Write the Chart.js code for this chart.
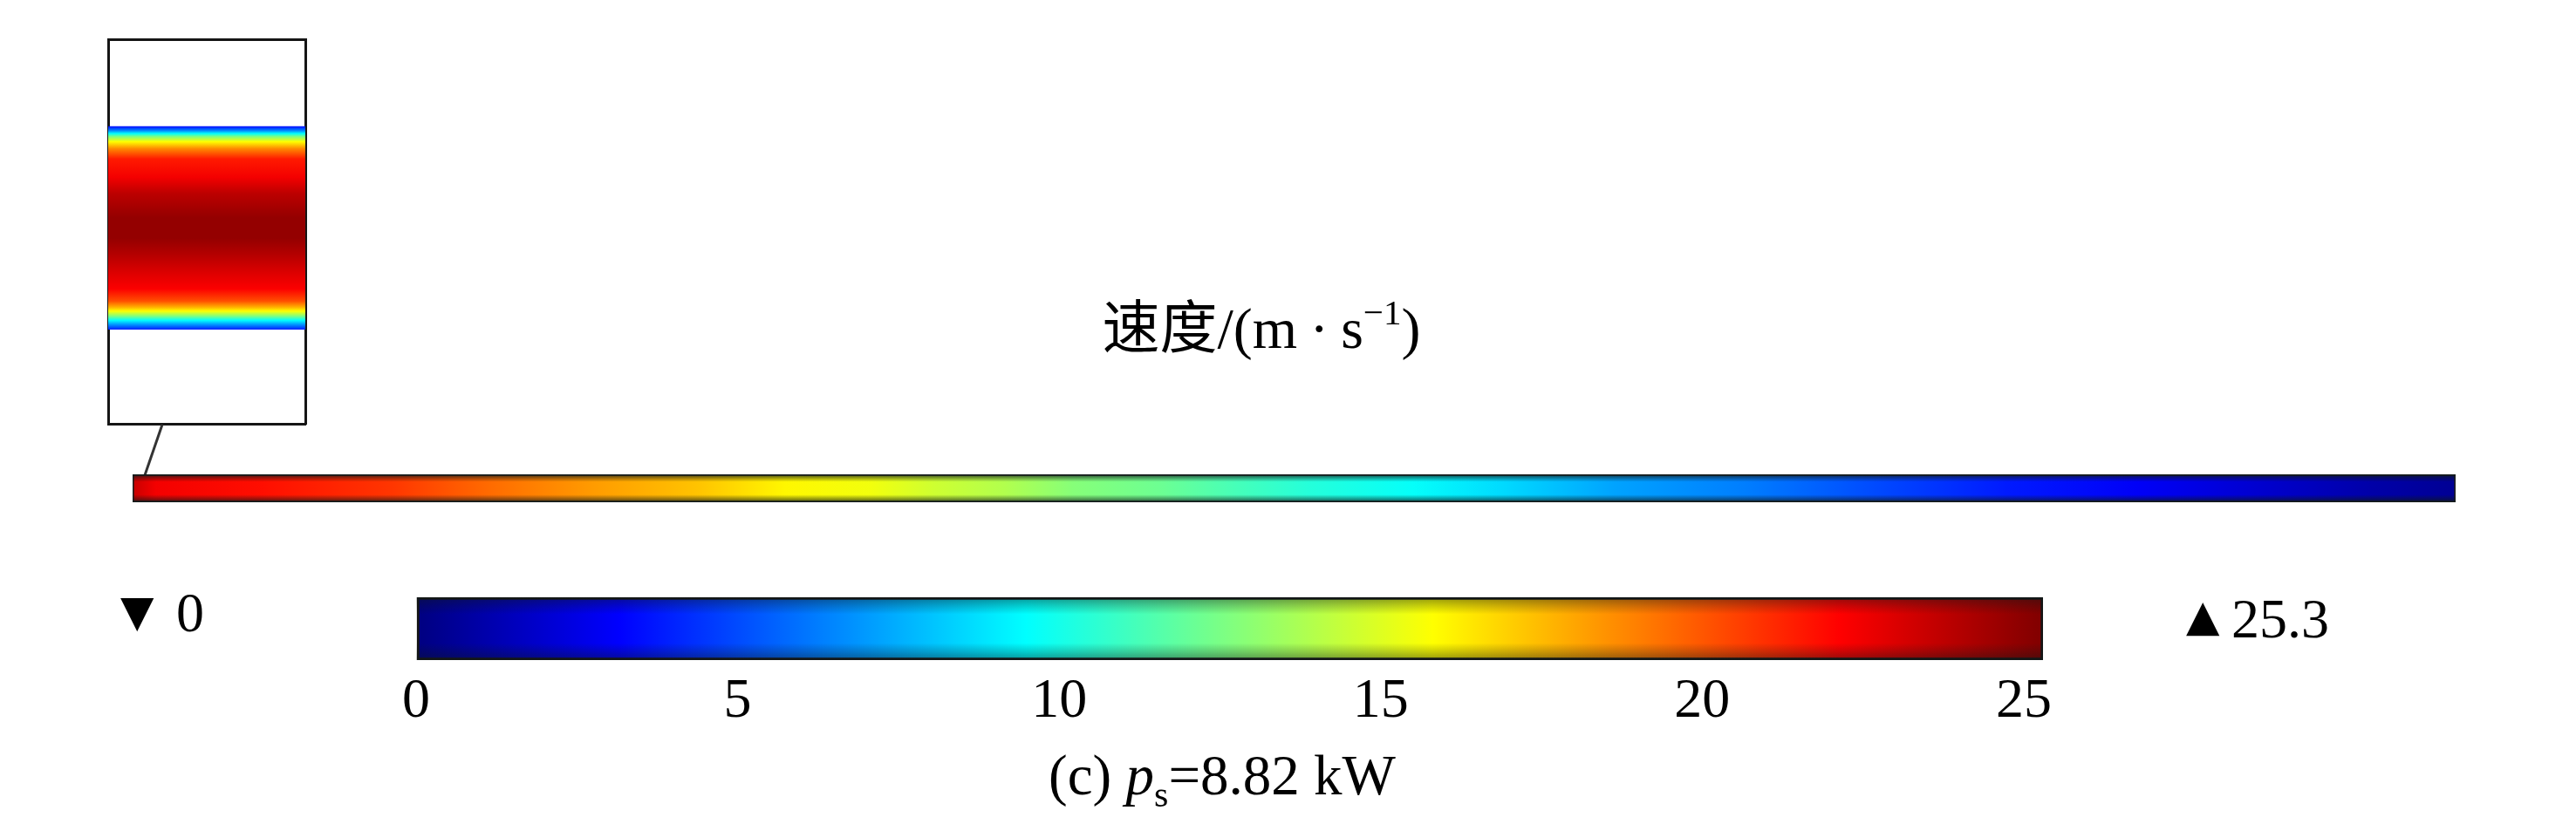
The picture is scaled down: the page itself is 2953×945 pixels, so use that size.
<!DOCTYPE html>
<html>
<head>
<meta charset="utf-8">
<script src="https://cdn.jsdelivr.net/npm/chart.js@4.4.1/dist/chart.umd.min.js"></script>
<style>
  html, body { margin: 0; padding: 0; background: #fff; overflow: hidden; }
  #stage { position: relative; width: 2953px; height: 945px; background: #fff; color: #000;
           font-family: "Liberation Serif", "Noto Sans CJK SC", serif; }
  .abs { position: absolute; }
  .txt { position: absolute; line-height: 1; white-space: nowrap; }
  .tri { font-family: "DejaVu Sans", sans-serif; }
</style>
</head>
<body>
<div id="stage">
  <div class="abs" style="left:120px;top:41px;width:234px;height:449px"><canvas id="insetChart"></canvas></div>
  <svg class="abs" style="left:0;top:0" width="2953" height="945">
    <line x1="186" y1="487" x2="166" y2="545" stroke="#333" stroke-width="3"/>
  </svg>
  <div class="abs" style="left:152px;top:544px;width:2663px;height:32px"><canvas id="pipeChart"></canvas></div>
  <div class="abs" style="left:417px;top:685px;width:1985px;height:144px"><canvas id="colorbarChart"></canvas></div>

  <div class="txt" style="left:1046px;top:344px;width:800px;text-align:center;font-size:66px">速度/(m<span style="padding:0 14px">·</span>s<span style="font-size:41px;position:relative;top:-27px">−1</span>)</div>

  <div class="txt tri" style="left:138px;top:676px;font-size:50px">▼</div>
  <div class="txt" style="left:202px;top:671px;font-size:64px">0</div>

  <div class="txt tri" style="left:2506px;top:681px;font-size:50px">▲</div>
  <div class="txt" style="left:2558px;top:678px;font-size:64px">25.3</div>

  <div class="txt" style="left:1001px;top:857px;width:800px;text-align:center;font-size:65px">(c) <i>p</i><span style="font-size:42px;position:relative;top:14px">s</span>=8.82 kW</div>
</div>

<script>
// ---- data ----
var speedMin = 0;
var speedMax = 25.3;
var colorbarTicks = [0, 5, 10, 15, 20, 25];

// speed along the pipe, position as fraction of pipe length (inlet on the left)
var pipePosition = [0, 0.01, 0.056, 0.112, 0.153, 0.198, 0.243, 0.281, 0.318, 0.345, 0.375, 0.405, 0.442,
                    0.476, 0.506, 0.551, 0.589, 0.638, 0.694, 0.750, 0.807, 0.863, 0.919, 0.964, 1];
var pipeSpeed = [23.5, 22.4, 21.8, 20.8, 19.5, 18.3, 17.3, 16.0, 15.5, 14.6, 13.9, 12.8, 12.2,
                 11.2, 10.4, 9.6, 8.6, 7.2, 6.3, 5.0, 3.8, 3.0, 1.9, 1.0, 0.5];

// inset: cross-section profile near the inlet, r/R (+1 = upper wall)
var profileRadius = [1, 0.96, 0.93, 0.9, 0.85, 0.78, 0.68, 0.5, 0.34, 0.1, -0.1, -0.26, -0.44,
                     -0.6, -0.72, -0.78, -0.82, -0.87, -0.91, -0.95, -1];
var profileSpeed = [3.5, 6.5, 9.5, 12.6, 15.8, 18.8, 21.5, 22.4, 23.8, 24.8, 24.8, 24.0, 23.0,
                    22.2, 20.2, 17.8, 15.8, 12.6, 9.5, 7.0, 4.0];

// ---- colour map (jet) ----
function clamp(a) { return Math.max(0, Math.min(1, a)); }
function jet(v) {
    var t = clamp((v - speedMin) / (speedMax - speedMin));
    var r = clamp(1.5 - Math.abs(4 * t - 3));
    var g = clamp(1.5 - Math.abs(4 * t - 2));
    var b = clamp(1.5 - Math.abs(4 * t - 1));
    return 'rgb(' + Math.round(r * 255) + ',' + Math.round(g * 255) + ',' + Math.round(b * 255) + ')';
}

function pipeGradient(chart) {
    var area = chart.chartArea;
    if (!area) return 'transparent';
    var xs = chart.scales.x;
    var g = chart.ctx.createLinearGradient(xs.getPixelForValue(0), 0, xs.getPixelForValue(1), 0);
    pipePosition.forEach(function(p, i) { g.addColorStop(p, jet(pipeSpeed[i])); });
    return g;
}

// darker band along the walls
function wallShade(chart, strength) {
    var area = chart.chartArea;
    if (!area) return 'transparent';
    var g = chart.ctx.createLinearGradient(0, area.top, 0, area.bottom);
    g.addColorStop(0, 'rgba(15,25,25,' + strength + ')');
    g.addColorStop(0.13, 'rgba(15,25,25,' + (strength * 0.5) + ')');
    g.addColorStop(0.27, 'rgba(15,25,25,0)');
    g.addColorStop(0.73, 'rgba(15,25,25,0)');
    g.addColorStop(0.87, 'rgba(15,25,25,' + (strength * 0.5) + ')');
    g.addColorStop(1, 'rgba(15,25,25,' + strength + ')');
    return g;
}

function profileGradient(chart) {
    var area = chart.chartArea;
    if (!area) return 'transparent';
    var ys = chart.scales.y;
    var g = chart.ctx.createLinearGradient(0, ys.getPixelForValue(1), 0, ys.getPixelForValue(-1));
    profileRadius.forEach(function(r, i) { g.addColorStop((1 - r) / 2, jet(profileSpeed[i])); });
    return g;
}

function colorbarGradient(chart) {
    var area = chart.chartArea;
    if (!area) return 'transparent';
    var xs = chart.scales.x;
    var x0 = xs.getPixelForValue(speedMin), x1 = xs.getPixelForValue(speedMax);
    var g = chart.ctx.createLinearGradient(x0, 0, x1, 0);
    for (var k = 0; k <= 64; k++) {
        g.addColorStop(k / 64, jet(speedMin + (speedMax - speedMin) * k / 64));
    }
    return g;
}

var hidden = { display: false };
var common = {
    responsive: true,
    maintainAspectRatio: false,
    animation: false,
    devicePixelRatio: 1,
    plugins: { legend: hidden, tooltip: { enabled: false } }
};

function frameAxis(pos, type) {
    return {
        type: type, position: pos,
        grid: { display: false, drawTicks: false },
        ticks: { display: false },
        border: { display: true, color: '#151515', width: 3 }
    };
}

// inset (magnified inlet section)
var insetY = frameAxis('left', 'linear');
insetY.min = -1.93;
insetY.max = 1.86;
new Chart(document.getElementById('insetChart'), {
    type: 'bar',
    data: {
        labels: [''],
        datasets: [{
            data: [[-1, 1]],
            backgroundColor: function(ctx) { return profileGradient(ctx.chart); },
            borderWidth: 0,
            barPercentage: 1,
            categoryPercentage: 1
        }]
    },
    options: Object.assign({}, common, {
        layout: { padding: 4 },
        scales: {
            x: frameAxis('bottom', 'category'),
            xTop: Object.assign(frameAxis('top', 'linear'), { min: 0, max: 1 }),
            y: insetY,
            yRight: Object.assign(frameAxis('right', 'linear'), { min: 0, max: 1 })
        }
    })
});

// the pipe
new Chart(document.getElementById('pipeChart'), {
    type: 'bar',
    data: {
        labels: [''],
        datasets: [{
            data: [[pipePosition[0], pipePosition[pipePosition.length - 1]]],
            backgroundColor: function(ctx) { return pipeGradient(ctx.chart); },
            borderColor: '#202020',
            borderWidth: 2,
            borderSkipped: false,
            order: 2,
            barPercentage: 1,
            categoryPercentage: 1
        }, {
            data: [[pipePosition[0], pipePosition[pipePosition.length - 1]]],
            backgroundColor: function(ctx) { return wallShade(ctx.chart, 0.8); },
            borderWidth: 0,
            grouped: false,
            order: 1,
            barPercentage: 1,
            categoryPercentage: 1
        }]
    },
    options: Object.assign({}, common, {
        indexAxis: 'y',
        layout: { padding: 0 },
        scales: {
            x: { type: 'linear', min: 0, max: 1, display: false },
            y: { display: false }
        }
    })
});

// colour legend
new Chart(document.getElementById('colorbarChart'), {
    type: 'bar',
    data: {
        labels: [''],
        datasets: [{
            data: [[speedMin, speedMax]],
            backgroundColor: function(ctx) { return colorbarGradient(ctx.chart); },
            borderColor: '#151515',
            borderWidth: 3,
            borderSkipped: false,
            order: 2,
            barPercentage: 1,
            categoryPercentage: 1
        }, {
            data: [[speedMin, speedMax]],
            backgroundColor: function(ctx) { return wallShade(ctx.chart, 0.45); },
            borderWidth: 0,
            grouped: false,
            order: 1,
            barPercentage: 1,
            categoryPercentage: 1
        }]
    },
    options: Object.assign({}, common, {
        indexAxis: 'y',
        layout: { padding: { left: 60, right: 60, top: 0, bottom: 0 } },
        scales: {
            x: {
                type: 'linear', min: speedMin, max: speedMax, z: 1,
                afterBuildTicks: function(scale) {
                    scale.ticks = colorbarTicks.map(function(v) { return { value: v }; });
                },
                grid: {
                    drawTicks: false,
                    lineWidth: 2,
                    borderDash: [11, 35],
                    color: function(ctx) { return ctx.tick && ctx.tick.value === 0 ? 'rgba(0,0,0,0)' : 'rgba(0,0,0,0.75)'; }
                },
                border: { display: false },
                ticks: {
                    padding: 10,
                    color: '#000',
                    maxRotation: 0,
                    autoSkip: false,
                    font: { family: 'Liberation Serif', size: 64 }
                }
            },
            y: { display: false }
        }
    })
});
</script>
</body>
</html>
